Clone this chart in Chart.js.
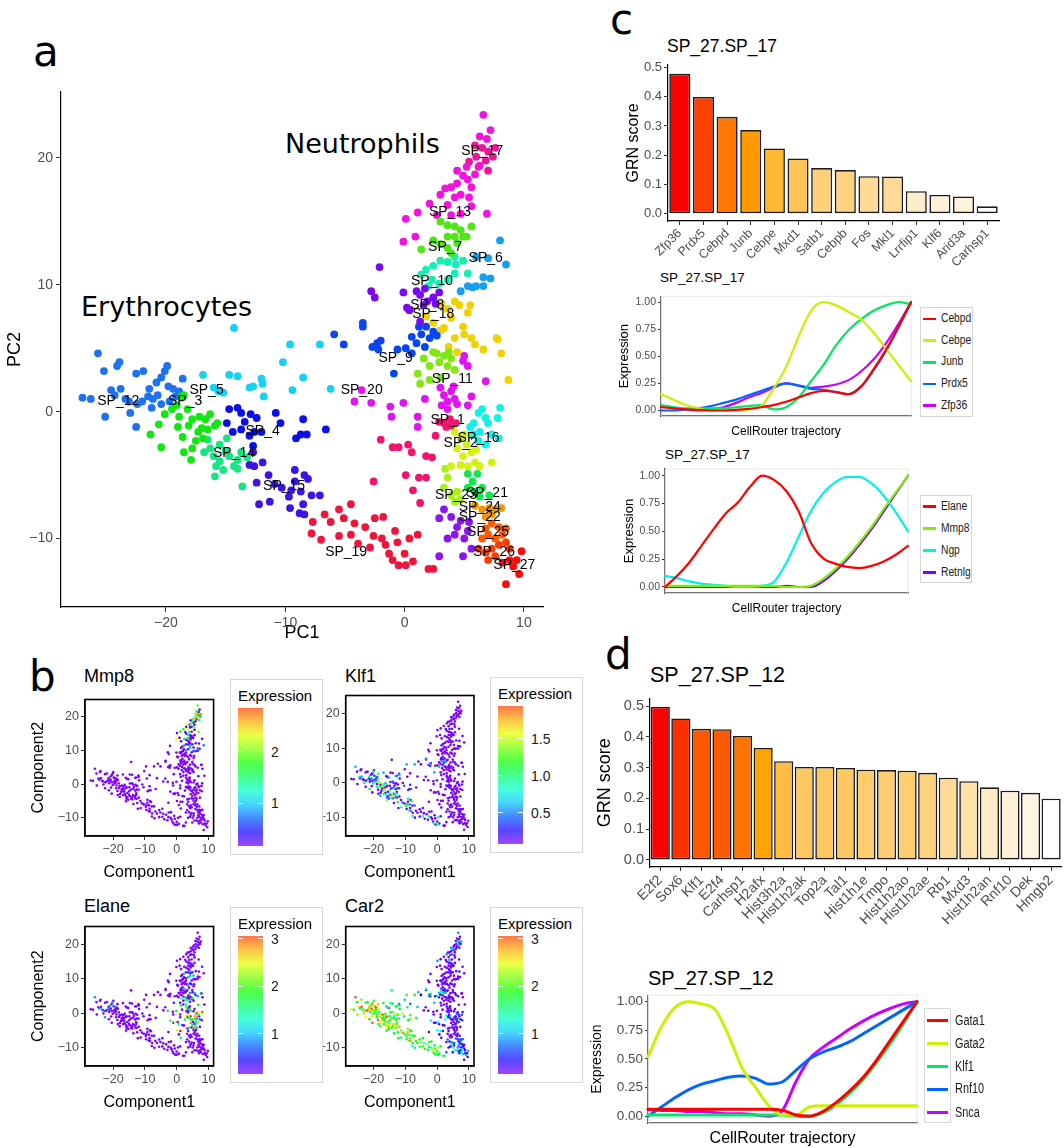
<!doctype html>
<html lang="en">
<head>
<meta charset="utf-8">
<title>CellRouter trajectories</title>
<style>
  * { margin: 0; padding: 0; box-sizing: border-box; }
  body { width: 1064px; height: 1148px; background: #fff; overflow: hidden; }
  #page { position: relative; width: 1064px; height: 1148px; font-family: "Liberation Sans", Arial, sans-serif; color: #000; }
  #page canvas { position: absolute; }
  .t { position: absolute; white-space: nowrap; line-height: 1; }
  .letter { font-family: "DejaVu Sans", sans-serif; font-size: 42px; }
  .big { font-family: "DejaVu Sans", sans-serif; font-size: 27px; }
  .lg { position: absolute; border: 1px solid #d6d6d6; background: #fff; }
  .lg div { position: absolute; white-space: nowrap; line-height: 1; }
</style>
</head>
<body>
<div id="page">
  <div class="t letter" style="left:33px;top:31px">a</div>
  <div class="t letter" style="left:29px;top:656px">b</div>
  <div class="t letter" style="left:610px;top:-1px">c</div>
  <div class="t letter" style="left:605px;top:634px">d</div>
  <div class="t big" style="left:285px;top:130px">Neutrophils</div>
  <div class="t big" style="left:81px;top:293px">Erythrocytes</div>

  <div class="t" style="left:84px;top:667px;font-size:18px">Mmp8</div>
  <div class="t" style="left:345px;top:667px;font-size:18px">Klf1</div>
  <div class="t" style="left:84px;top:897px;font-size:18px">Elane</div>
  <div class="t" style="left:345px;top:897px;font-size:18px">Car2</div>

  <div class="t" style="left:667px;top:38px;font-size:17.5px">SP_27.SP_17</div>
  <div class="t" style="left:660px;top:271px;font-size:13.5px">SP_27.SP_17</div>
  <div class="t" style="left:665px;top:448px;font-size:13.5px">SP_27.SP_17</div>
  <div class="t" style="left:650px;top:665px;font-size:21.5px">SP_27.SP_12</div>
  <div class="t" style="left:648px;top:968px;font-size:20px">SP_27.SP_12</div>
</div>

<script src="https://cdn.jsdelivr.net/npm/chart.js@4.4.1/dist/chart.umd.min.js"></script>
<script>
// ---------- panel a / b : PCA coordinates per cluster ----------
const pcTicksX = [-20, -10, 0, 10];
const pcTicksY = [-10, 0, 10, 20];

const sp1 = [[2.9,-0.8],[3.3,-0.9],[3.9,-1.1],[4.3,-0.9],[3.8,-0.6],[3.5,-1.2],[-2.0,-2.2],[-1.0,-2.8],[-0.5,-2.8],[0.3,-2.6],[0.6,-3.2],[-2.6,-5.5],[0.1,-5.0],[0.7,-6.2],[1.3,-7.2],[1.2,-5.2],[1.8,-5.2],[1.8,-3.5],[2.6,-1.9],[2.3,-3.6]];
const sp2 = [[4.2,-1.6],[4.7,-2.1],[4.4,-2.9],[5.2,-2.6],[5.6,-3.2],[4.9,-3.5],[5.9,-4.0],[6.3,-4.3],[5.3,-4.3],[4.7,-4.2],[7.3,-4.0],[3.9,-4.3],[5.0,-1.8],[6.0,-3.0]];
const sp3 = [[-20.1,-0.2],[-20.6,-1.0],[-21.3,-1.8],[-20.4,-2.8],[-19.1,0.5],[-18.9,-0.4],[-18.7,1.2],[-18.5,1.3],[-19.0,-1.2],[-18.6,-2.0],[-18.1,-1.1],[-18.5,-3.2],[-17.9,-3.8],[-17.8,-2.9],[-17.3,-1.6],[-17.2,-0.4],[-16.7,-0.6],[-16.5,-1.4],[-16.9,-2.1],[-17.5,-2.3],[-16.3,-0.2],[-15.9,-1.1],[-15.7,-0.9],[-18.2,0.2],[-19.5,0.2],[-17.8,-0.6],[-17.0,-1.3]];
const sp4 = [[-14.7,0.2],[-14.0,0.3],[-13.7,-0.1],[-14.9,-0.9],[-14.4,-1.6],[-13.7,-1.4],[-13.4,-0.8],[-12.9,-0.2],[-12.4,-0.5],[-12.6,-1.6],[-13.0,-1.9],[-12.0,-1.6],[-10.8,-0.1],[-10.4,-0.9],[-8.5,-0.6],[-9.1,-2.1],[-8.7,-1.8],[-8.2,-1.8],[-6.6,-1.4],[-12.7,-2.7]];
const sp5 = [[-14.3,6.6],[-16.9,2.9],[-16.0,1.9],[-15.6,1.6],[-15.2,1.5],[-14.7,2.9],[-14.0,2.8],[-13.0,1.9],[-12.7,2.0],[-12.0,2.6],[-11.9,2.2],[-11.8,1.2],[-10.2,3.9],[-9.6,5.3],[-8.5,2.7],[-9.4,1.7],[-7.1,5.3],[-6.2,1.8]];
const sp6 = [[8.0,13.5],[7.0,12.1],[8.5,11.6],[4.7,9.5],[5.3,9.9],[5.7,9.8],[6.0,9.9],[6.6,9.9],[6.6,10.6],[7.2,10.5],[6.0,12.2]];
const sp7 = [[1.4,12.8],[3.0,15.0],[3.6,14.7],[4.2,14.6],[4.7,14.3],[4.9,13.8],[4.2,13.8],[3.6,13.8],[3.0,13.2],[3.6,12.9],[4.4,13.3],[5.6,14.6],[2.4,13.5],[5.2,13.8],[3.9,12.5]];
const sp8 = [[-2.1,11.4],[-2.8,9.5],[-2.5,9.0],[-0.1,9.4],[0.2,8.2],[0.4,8.0],[1.3,7.1],[1.0,9.5],[1.3,9.2],[1.7,9.7],[1.9,8.7],[2.4,9.0],[2.6,8.5],[1.6,8.4],[2.9,9.4]];
const sp9 = [[-5.9,6.1],[-5.1,5.3],[-3.5,7.0],[-3.5,6.7],[-2.7,5.1],[-2.3,5.4],[-2.0,5.6],[-2.2,4.9],[-0.9,3.0],[-0.6,4.9],[0.1,5.0],[0.6,4.6],[0.6,5.9],[1.0,5.4],[1.4,6.1],[1.7,5.1],[2.1,5.8],[2.4,6.3],[1.2,6.7],[1.8,6.7],[2.7,6.0]];
const sp10 = [[1.8,11.2],[2.4,11.5],[3.0,11.9],[3.6,11.8],[4.2,12.2],[4.3,11.6],[4.9,11.9],[5.3,10.9],[2.3,10.4],[2.9,10.1],[3.6,10.4],[1.4,10.8],[2.0,9.9],[4.2,10.9]];
const sp11 = [[1.6,4.2],[2.1,3.6],[2.4,4.7],[2.9,3.9],[3.3,4.4],[3.6,3.6],[3.9,4.2],[1.1,3.0],[1.3,2.2],[2.1,2.5],[3.0,2.7],[4.2,3.3],[3.7,4.7],[2.7,4.6]];
const sp12 = [[-27.0,1.1],[-26.3,1.0],[-25.7,4.6],[-25.2,3.2],[-25.1,-0.4],[-24.6,1.7],[-24.3,1.3],[-24.1,3.6],[-23.9,3.9],[-23.8,1.8],[-23.4,1.0],[-23.1,0.8],[-23.0,-0.1],[-22.5,3.0],[-22.5,-1.2],[-22.4,0.6],[-22.0,0.8],[-21.9,3.2],[-21.5,1.2],[-21.4,1.8],[-21.2,0.3],[-21.1,1.0],[-20.8,2.3],[-20.7,1.3],[-20.4,2.7],[-20.4,0.6],[-20.1,3.2],[-19.9,3.6],[-19.8,2.0],[-19.7,0.8],[-19.4,1.8],[-19.2,1.2],[-18.9,1.6],[-18.6,2.6]];
const sp13 = [[2.1,16.4],[3.0,17.1],[3.4,17.6],[3.9,17.7],[4.4,18.0],[4.7,17.1],[5.3,18.3],[5.4,16.9],[5.6,17.7],[4.9,18.6],[4.2,16.9],[3.6,16.3],[2.7,15.5],[3.9,15.5],[4.7,15.6],[5.6,16.2],[6.9,15.6],[0.1,15.2],[1.1,15.7],[0.9,13.8],[-0.1,13.4],[4.4,19.0],[5.2,19.3],[5.9,18.7],[6.3,19.4],[6.6,23.4],[7.2,22.2],[6.3,21.7],[6.9,21.5]];
const sp14 = [[-16.8,-3.2],[-16.3,-2.9],[-16.0,-3.5],[-15.9,-5.1],[-15.5,-3.9],[-15.2,-4.6],[-15.0,-3.1],[-14.7,-3.5],[-14.3,-4.3],[-14.0,-3.8],[-13.6,-5.9],[-13.7,-3.2],[-13.2,-3.6],[-15.5,-2.6],[-14.9,-2.1],[-16.5,-2.2],[-14.0,-4.5],[-15.8,-4.3]];
const sp15 = [[-12.7,-3.2],[-13.0,-4.2],[-12.6,-4.3],[-11.9,-4.0],[-12.4,-5.6],[-12.2,-7.3],[-11.3,-7.1],[-11.4,-5.0],[-10.9,-5.7],[-10.3,-6.0],[-9.7,-6.7],[-9.6,-7.6],[-9.2,-4.6],[-9.2,-5.5],[-8.7,-6.3],[-8.4,-5.0],[-8.1,-5.3],[-8.5,-7.3],[-8.8,-8.0],[-7.8,-6.6],[-7.1,-6.6],[-8.4,-8.1],[-9.5,-6.2]];
const sp16 = [[6.2,-0.1],[6.5,0.2],[6.8,-0.5],[5.8,-0.9],[6.3,-1.6],[7.0,-0.9],[7.8,-0.5],[8.0,0.3],[6.8,-2.6],[6.2,-2.3],[5.8,-1.8],[7.3,-1.8],[7.9,-2.1],[5.5,-1.2]];
const sp17 = [[5.9,21.0],[6.5,20.8],[7.0,20.5],[6.0,20.1],[6.8,19.8],[7.4,20.1],[5.4,19.7],[7.6,20.8],[6.2,19.3],[7.0,19.0]];
const sp18 = [[1.8,7.5],[2.4,7.0],[3.1,8.5],[3.3,6.6],[3.9,7.4],[4.2,5.8],[4.6,8.4],[4.9,6.7],[5.3,7.8],[5.6,5.8],[5.9,5.3],[5.5,8.4],[4.2,8.7],[3.6,8.1],[3.7,5.1],[4.4,4.7],[5.0,6.1],[6.6,4.9],[7.8,5.7],[8.1,4.6],[8.7,2.5],[7.7,5.8],[3.0,6.4]];
const sp19 = [[-7.7,-8.7],[-7.0,-10.1],[-6.7,-8.1],[-7.8,-9.6],[-5.5,-7.7],[-5.1,-8.4],[-4.5,-7.3],[-5.5,-9.8],[-4.5,-9.7],[-4.2,-8.8],[-3.9,-10.4],[-3.3,-9.1],[-2.9,-10.7],[-2.6,-9.8],[-2.5,-8.4],[-1.9,-10.0],[-1.8,-8.3],[-1.6,-10.5],[-1.0,-11.7],[-0.8,-9.4],[-0.6,-10.3],[-0.5,-12.1],[0.0,-11.2],[0.4,-10.0],[0.7,-11.8],[1.1,-9.7],[2.0,-12.4],[2.4,-12.4],[0.1,-12.1],[-1.3,-11.2],[-6.2,-8.7]];
const sp20 = [[-3.6,1.7],[-4.2,0.8],[-2.8,0.7],[-1.2,0.4],[-1.1,-0.4],[-0.1,0.7],[1.1,-0.4],[1.1,-1.2],[3.3,1.3],[3.6,0.8],[3.9,1.6],[4.2,1.0],[3.1,0.5],[3.6,0.2],[4.4,0.6],[4.9,4.0],[5.3,3.6],[5.0,4.4],[5.6,1.2],[5.3,0.5],[6.8,2.4],[1.7,1.0],[4.1,2.0],[3.0,1.9]];
const sp21 = [[5.3,-4.9],[5.7,-5.5],[6.1,-4.9],[6.5,-6.0],[5.9,-6.3],[5.3,-6.0],[7.1,-6.6],[6.3,-6.7]];
const sp22 = [[3.3,-7.7],[3.9,-8.3],[4.4,-9.1],[4.2,-9.7],[4.7,-8.6],[5.3,-9.4],[5.0,-10.0],[4.9,-11.4],[2.9,-11.4],[3.6,-10.0],[5.6,-10.8],[2.9,-8.4],[5.4,-8.7]];
const sp23 = [[3.4,-4.5],[3.6,-5.2],[3.3,-6.0],[3.9,-6.6],[4.4,-6.3],[4.7,-6.9],[4.2,-7.1]];
const sp24 = [[5.9,-7.4],[6.5,-7.7],[7.1,-7.6],[7.6,-7.7],[8.1,-7.6],[6.8,-8.3],[7.3,-8.1]];
const sp25 = [[6.8,-9.2],[7.3,-8.8],[7.9,-9.1],[7.0,-9.7],[7.6,-10.0],[8.2,-9.7],[6.5,-10.0],[8.5,-9.2]];
const sp26 = [[6.2,-10.8],[6.8,-11.1],[7.3,-10.8],[7.9,-10.5],[8.5,-10.3],[7.0,-11.7],[7.6,-11.4],[8.8,-10.8]];
const sp27 = [[8.5,-13.6],[9.1,-12.2],[9.6,-12.8],[9.8,-11.0],[9.4,-11.7],[8.2,-11.9],[8.8,-11.7]];

const clusterPoints = {
  SP_1: sp1, SP_2: sp2, SP_3: sp3, SP_4: sp4, SP_5: sp5, SP_6: sp6, SP_7: sp7, SP_8: sp8, SP_9: sp9,
  SP_10: sp10, SP_11: sp11, SP_12: sp12, SP_13: sp13, SP_14: sp14, SP_15: sp15, SP_16: sp16, SP_17: sp17,
  SP_18: sp18, SP_19: sp19, SP_20: sp20, SP_21: sp21, SP_22: sp22, SP_23: sp23, SP_24: sp24, SP_25: sp25,
  SP_26: sp26, SP_27: sp27
};
const clusterColors = {
  SP_1: '#F0146E', SP_2: '#D7F014', SP_3: '#14E614', SP_4: '#0A10E6', SP_5: '#14D2F0', SP_6: '#14A0F0',
  SP_7: '#50E614', SP_8: '#780AF0', SP_9: '#0A46F0', SP_10: '#14F0B4', SP_11: '#82E614', SP_12: '#1E72F0',
  SP_13: '#F014DC', SP_14: '#14E682', SP_15: '#3C14E6', SP_16: '#14F0E6', SP_17: '#F0149B', SP_18: '#F0D200',
  SP_19: '#F0143C', SP_20: '#E014F0', SP_21: '#14E650', SP_22: '#8C14F0', SP_23: '#AAF014', SP_24: '#F09600',
  SP_25: '#FF5A00', SP_26: '#FF3C00', SP_27: '#FF0A0A'
};
// label anchor of each cluster name (data units)
const clusterLabelAt = {
  SP_17: [6.5, 20.5], SP_13: [3.8, 15.7], SP_7: [3.4, 13.0], SP_6: [6.8, 12.1], SP_10: [2.3, 10.3],
  SP_8: [1.9, 8.4], SP_18: [2.4, 7.7], SP_9: [-0.75, 4.2], SP_11: [4.0, 2.6], SP_20: [-3.6, 1.7],
  SP_5: [-16.6, 1.7], SP_3: [-18.4, 0.8], SP_12: [-24.0, 0.8], SP_4: [-11.9, -1.5], SP_14: [-14.3, -3.3],
  SP_15: [-10.1, -5.9], SP_19: [-4.9, -11.1], SP_1: [3.6, -0.65], SP_16: [6.2, -2.1], SP_2: [4.7, -2.5],
  SP_21: [6.9, -6.4], SP_23: [4.3, -6.6], SP_24: [6.3, -7.5], SP_22: [6.3, -8.3], SP_25: [7.0, -9.5],
  SP_26: [7.5, -11.1], SP_27: [9.2, -12.1]
};

// expression read per cluster (values cycle over that cluster's cells)
const mmp8Expr = { base: 0.15, SP_17: [2.5,1.8,2.8,1.2,2.2,0.9], SP_13: [1.8,0.3,2.4,0.2,1.2,0.2,0.3,2.0,0.2], SP_7: [0.2,0.2,1.6,0.2,0.2], SP_10: [0.2,0.9,0.2,0.2], SP_6: [0.2,0.2,0.8] };
const klf1Expr = { base: 0.08, SP_12: [0.1,0.1,0.6,0.1,0.1,0.9,0.1], SP_3: [0.8,0.1,1.2,0.1,0.6,0.1,0.1,1.4], SP_5: [0.1,0.6,0.1], SP_14: [1.0,0.1,0.7,1.5,0.1,0.5], SP_4: [0.1,0.5,0.1,0.1], SP_15: [0.8,0.1,0.5,0.1,1.2,0.1], SP_19: [0.1,0.1,0.1,0.9,0.1], SP_9: [0.1,0.1,0.6] };
const elaneExpr = { base: 0.15, SP_16: [3.0,2.2,1.4,2.8,0.8,0.2,2.5], SP_2: [2.0,1.0,2.9,0.3,0.2,1.6], SP_1: [2.5,0.2,1.5,0.2], SP_11: [1.2,0.2,0.2,1.8,0.2], SP_18: [0.2,0.9,0.2,0.2], SP_10: [0.2,1.0,0.2], SP_12: [0.15,0.15,0.9,0.15], SP_20: [0.15,0.15,1.9] };
const car2Expr = { base: 0.2, SP_12: [2.5,2.0,3.0,1.8,2.2,2.7,1.5], SP_3: [2.0,2.6,1.8,3.0,2.2,1.6], SP_5: [1.5,1.8,1.0,2.0,0.8], SP_14: [1.8,2.2,2.6,1.6,2.0], SP_4: [1.8,1.2,2.4,1.6,2.1], SP_15: [1.9,1.5,2.2,2.8,1.7], SP_19: [1.8,1.6,2.0,1.2,1.9,2.3], SP_9: [1.0,0.5,1.5,0.3], SP_22: [0.8,0.3,1.2,0.3], SP_25: [0.9,0.3,0.3], SP_26: [1.1,0.3,0.6], SP_24: [0.8,0.3], SP_27: [0.3,1.0], SP_13: [0.2,0.9,0.2,0.2], SP_17: [0.2,1.0,0.2], SP_16: [0.7,0.2], SP_1: [1.2,0.3,0.3] };
const legendTicksMmp8 = ['1', '2'];
const legendTicksKlf1 = ['0.5', '1.0', '1.5'];
const legendTicksElane = ['1', '2', '3'];
const legendTicksCar2 = ['1', '2', '3'];

// ---------- panel c / d : GRN scores ----------
const genesC = ['Zfp36','Prdx5','Cebpd','Junb','Cebpe','Mxd1','Satb1','Cebpb','Fos','Mkl1','Lrrfip1','Klf6','Arid3a','Carhsp1'];
const scoresC = [0.478,0.399,0.331,0.286,0.223,0.189,0.156,0.149,0.128,0.127,0.077,0.064,0.059,0.025];
const genesD = ['E2f2','Sox6','Klf1','E2f4','Carhsp1','H2afx','Hist3h2a','Hist1h2ak','Top2a','Tal1','Hist1h1e','Tmpo','Hist1h2ao','Hist1h2ae','Rb1','Mxd3','Hist1h2an','Rnf10','Dek','Hmgb2'];
const scoresD = [0.498,0.460,0.426,0.425,0.403,0.364,0.321,0.302,0.302,0.299,0.293,0.292,0.290,0.283,0.267,0.256,0.236,0.225,0.218,0.199];
const grnTicks = [0, 0.1, 0.2, 0.3, 0.4, 0.5];

// ---------- trajectories ----------
const trajT = [0,0.05,0.1,0.15,0.2,0.25,0.3,0.35,0.4,0.45,0.5,0.55,0.6,0.65,0.7,0.75,0.8,0.85,0.9,0.95,1];
const exprTicks = [0, 0.25, 0.5, 0.75, 1];

const namesC1 = ['Cebpd','Cebpe','Junb','Prdx5','Zfp36'];
const cebpdC1 = [0.03,0.02,0.01,0.005,0,0,0.005,0.015,0.03,0.05,0.08,0.12,0.16,0.18,0.17,0.15,0.22,0.38,0.56,0.77,1.0];
const cebpeC1 = [0.15,0.1,0.05,0.02,0,0,0,0.01,0.04,0.2,0.4,0.68,0.92,1.0,0.97,0.91,0.84,0.72,0.57,0.42,0.27];
const junbC1  = [0.05,0.03,0.02,0.02,0.02,0.02,0.03,0.04,0.05,0.01,0.03,0.12,0.27,0.42,0.6,0.74,0.84,0.92,0.97,1.0,0.98];
const prdx5C1 = [0,0,0.01,0.02,0.04,0.07,0.1,0.14,0.18,0.22,0.25,0.23,0.2,0.19,0.17,0.15,0.22,0.37,0.55,0.77,1.0];
const zfp36C1 = [0.04,0.03,0.01,0,0.01,0.03,0.07,0.12,0.16,0.21,0.25,0.23,0.21,0.22,0.24,0.28,0.36,0.47,0.62,0.8,1.0];

const namesC2 = ['Elane','Mmp8','Ngp','Retnlg'];
const elaneC2  = [0,0.1,0.22,0.37,0.52,0.66,0.76,0.9,1.0,0.96,0.86,0.68,0.4,0.26,0.21,0.18,0.17,0.19,0.23,0.29,0.37];
const mmp8C2   = [0.01,0.01,0.01,0.01,0.01,0.01,0.01,0.01,0.01,0.01,0,0,0.01,0.07,0.16,0.27,0.4,0.54,0.7,0.85,1.0];
const ngpC2    = [0.1,0.08,0.05,0.03,0.02,0.01,0,0,0.01,0.05,0.22,0.45,0.68,0.84,0.94,0.99,0.99,0.93,0.82,0.67,0.5];
const retnlgC2 = [0,0,0,0,0,0,0,0,0,0,0.01,0,0,0.05,0.14,0.25,0.38,0.52,0.68,0.84,1.0];

const namesD = ['Gata1','Gata2','Klf1','Rnf10','Snca'];
const gata1D = [0.06,0.06,0.06,0.06,0.06,0.06,0.06,0.06,0.06,0.06,0.05,0.01,0,0.04,0.12,0.22,0.34,0.49,0.66,0.83,1.0];
const gata2D = [0.52,0.78,0.95,1.0,0.98,0.93,0.7,0.42,0.25,0.09,0.01,0.01,0.08,0.09,0.09,0.09,0.09,0.09,0.09,0.09,0.09];
const klf1D  = [0.01,0.01,0.01,0.01,0.01,0.01,0.01,0.01,0.01,0.01,0.01,0,0,0.03,0.1,0.2,0.32,0.47,0.63,0.81,1.0];
const rnf10D = [0,0.08,0.16,0.23,0.28,0.31,0.34,0.35,0.33,0.28,0.3,0.4,0.5,0.56,0.6,0.65,0.72,0.79,0.86,0.93,1.0];
const sncaD  = [0.06,0.05,0.05,0.04,0.04,0.03,0.02,0.02,0.01,0,0.05,0.3,0.5,0.6,0.68,0.76,0.83,0.89,0.94,0.98,1.0];

const lineColors5 = ['#FF0000', '#CCF000', '#00E864', '#0066FF', '#CC00FF'];
const lineColors4 = ['#FF0000', '#80F000', '#00F0F0', '#8000FF'];

// ---------- helpers ----------
Chart.defaults.font.family = '"Liberation Sans", Arial, sans-serif';
Chart.defaults.color = '#4d4d4d';
Chart.defaults.animation = false;
Chart.defaults.plugins.legend.display = false;
Chart.defaults.plugins.tooltip.enabled = false;

const page = document.getElementById('page');

function makeCanvas(box) {
  const c = document.createElement('canvas');
  c.width = box.w; c.height = box.h;
  c.style.left = box.x + 'px'; c.style.top = box.y + 'px';
  page.appendChild(c);
  return c;
}

const minus = v => (v < 0 ? '\u2212' + Math.abs(v) : String(v));

function axis(o) {
  return {
    type: o.type || 'linear',
    min: o.min, max: o.max,
    offset: o.offset || false,
    afterBuildTicks: o.ticks ? (s => { s.ticks = o.ticks.map(v => ({ value: v })); }) : undefined,
    ticks: {
      display: o.showTicks !== false,
      callback: o.fmt || function (v) { return this.getLabelForValue(v); },
      font: { size: o.tickSize || 12 },
      color: '#4d4d4d',
      padding: o.pad != null ? o.pad : 2,
      autoSkip: false,
      maxRotation: o.rot || 0, minRotation: o.rot || 0
    },
    grid: {
      offset: false,
      drawOnChartArea: false,
      drawTicks: o.showTicks !== false,
      tickLength: o.tickLen || 4,
      color: '#333', tickColor: '#333', tickWidth: 1
    },
    border: { display: true, color: '#000', width: o.bw || 1.2 },
    title: {
      display: !!o.title, text: o.title, color: '#000',
      font: { size: o.titleSize || 14 },
      padding: { top: o.titlePad || 0, bottom: o.titlePad || 0 }
    },
    afterFit: s => {
      if (o.width != null) s.width = o.width;
      if (o.height != null) s.height = o.height;
    }
  };
}

// fits the plotting area exactly inside a canvas box (both in page pixels)
function fitArea(box, area) {
  return {
    padding: { top: area.t - box.y, right: box.x + box.w - area.r, left: 0, bottom: 0 },
    yWidth: area.l - box.x,
    xHeight: box.y + box.h - area.b
  };
}

const frameUnder = {
  id: 'frameUnder',
  beforeDatasetsDraw(chart, args, opts) {
    if (!opts.color) return;
    const { ctx, chartArea: a } = chart;
    ctx.save();
    ctx.strokeStyle = opts.color; ctx.lineWidth = opts.width || 1;
    ctx.strokeRect(a.left, a.top, a.right - a.left, a.bottom - a.top);
    ctx.restore();
  }
};
const frameOver = {
  id: 'frameOver',
  afterDatasetsDraw(chart, args, opts) {
    if (!opts.color) return;
    const { ctx, chartArea: a } = chart;
    ctx.save();
    ctx.strokeStyle = opts.color; ctx.lineWidth = opts.width || 1;
    ctx.strokeRect(a.left, a.top, a.right - a.left, a.bottom - a.top);
    ctx.restore();
  }
};

function rainbow(v, lo, hi, alpha) {
  let t = (v - lo) / (hi - lo);
  t = Math.max(0, Math.min(1, t));
  return `hsla(${270 - 255 * t},100%,50%,${alpha == null ? 1 : alpha})`;
}
function heat(v, lo, hi) {
  const t = (v - lo) / (hi - lo);
  let g, b;
  if (t < 0.55) { const f = t / 0.55; g = 255 - 90 * f; b = 255 - 255 * f; }
  else { const f = (t - 0.55) / 0.45; g = 165 - 165 * f; b = 0; }
  return `rgb(255,${Math.round(g)},${Math.round(b)})`;
}

// ---------- panel a ----------
(function () {
  const box = { x: 0, y: 80, w: 560, h: 568 };
  const f = fitArea(box, { l: 61, t: 92, r: 543, b: 607 });
  const names = Object.keys(clusterPoints);
  const datasets = names.map(n => ({
    label: n,
    data: clusterPoints[n].map(p => ({ x: p[0], y: p[1] })),
    backgroundColor: clusterColors[n],
    pointRadius: 3.9, pointBorderWidth: 0
  }));
  const labels = {
    id: 'clusterLabels',
    afterDatasetsDraw(chart) {
      const { ctx, scales: { x, y } } = chart;
      ctx.save();
      ctx.font = '14px "Liberation Sans", Arial, sans-serif';
      ctx.fillStyle = '#000'; ctx.textAlign = 'center'; ctx.textBaseline = 'middle';
      Object.entries(clusterLabelAt).forEach(([n, p]) => {
        ctx.fillText(n, x.getPixelForValue(p[0]), y.getPixelForValue(p[1]));
      });
      ctx.restore();
    }
  };
  new Chart(makeCanvas(box), {
    type: 'scatter',
    data: { datasets },
    options: {
      responsive: false,
      layout: { padding: f.padding },
      scales: {
        x: axis({ min: -28.8, max: 11.6, ticks: pcTicksX, fmt: minus, tickSize: 14, tickLen: 5, pad: 3, title: 'PC1', titleSize: 18, titlePad: 4, height: f.xHeight }),
        y: axis({ min: -15.4, max: 25.2, ticks: pcTicksY, fmt: minus, tickSize: 14, tickLen: 5, pad: 3, title: 'PC2', titleSize: 18, titlePad: 4, width: f.yWidth })
      }
    },
    plugins: [labels]
  });
})();

// ---------- panel b ----------
function exprPanel(box, area, gene, lo, hi) {
  const f = fitArea(box, area);
  const pts = [];
  Object.keys(clusterPoints).forEach(n => {
    const list = gene[n];
    clusterPoints[n].forEach((p, i) => {
      pts.push({ x: p[0], y: p[1], v: list ? list[i % list.length] : gene.base });
    });
  });
  pts.sort((a, b) => a.v - b.v);
  new Chart(makeCanvas(box), {
    type: 'scatter',
    data: { datasets: [{
      data: pts,
      pointBackgroundColor: pts.map(p => rainbow(p.v, lo, hi)),
      pointRadius: 1.3, pointBorderWidth: 0
    }] },
    options: {
      responsive: false,
      layout: { padding: f.padding },
      plugins: { frameOver: { color: '#000', width: 1.6 } },
      scales: {
        x: axis({ min: -28.8, max: 11.6, ticks: pcTicksX, fmt: minus, tickSize: 12.5, pad: 2, title: 'Component1', titleSize: 16, titlePad: 3, height: f.xHeight }),
        y: axis({ min: -15.4, max: 25.2, ticks: pcTicksY, fmt: minus, tickSize: 12.5, pad: 2, title: 'Component2', titleSize: 16, titlePad: 3, width: f.yWidth })
      }
    },
    plugins: [frameOver]
  });
}

function colorbarLegend(L, T, lo, hi, ticks) {
  const lg = document.createElement('div');
  lg.className = 'lg';
  lg.style.cssText = `left:${L}px;top:${T}px;width:93px;height:176px`;
  const title = document.createElement('div');
  title.textContent = 'Expression';
  title.style.cssText = 'left:7px;top:8px;font-size:15px;color:#000';
  lg.appendChild(title);
  const barH = 138, barTop = 28;
  const stops = [];
  for (let i = 0; i <= 10; i++) stops.push(`${rainbow(lo + (hi - lo) * i / 10, lo, hi, 0.72)} ${i * 10}%`);
  const bar = document.createElement('div');
  bar.style.cssText = `left:7px;top:${barTop}px;width:24.5px;height:${barH}px;background:linear-gradient(to top, ${stops.join(',')})`;
  lg.appendChild(bar);
  ticks.forEach(s => {
    const v = parseFloat(s);
    const y = barTop + barH * (1 - (v - lo) / (hi - lo));
    const lab = document.createElement('div');
    lab.textContent = s;
    lab.style.cssText = `left:40px;top:${y - 7}px;font-size:14px;color:#1a1a1a`;
    lg.appendChild(lab);
    [7, 26.5].forEach(x => {
      const tk = document.createElement('div');
      tk.style.cssText = `left:${x}px;top:${y - 0.5}px;width:5px;height:1px;background:rgba(255,255,255,0.9)`;
      lg.appendChild(tk);
    });
  });
  page.appendChild(lg);
}

exprPanel({ x: 26, y: 690, w: 195, h: 195 }, { l: 85, t: 698, r: 213.6, b: 836 }, mmp8Expr, 0.16, 2.86);
exprPanel({ x: 287, y: 686, w: 195, h: 199 }, { l: 345.7, t: 694, r: 474, b: 836 }, klf1Expr, 0.075, 1.94);
exprPanel({ x: 26, y: 917, w: 195, h: 198 }, { l: 85, t: 925, r: 213.6, b: 1066 }, elaneExpr, 0.15, 3.06);
exprPanel({ x: 287, y: 917, w: 195, h: 198 }, { l: 345.7, t: 925, r: 474, b: 1066 }, car2Expr, 0.15, 3.06);
colorbarLegend(230, 679, 0.16, 2.86, legendTicksMmp8);
colorbarLegend(490, 677, 0.075, 1.94, legendTicksKlf1);
colorbarLegend(230, 907, 0.15, 3.06, legendTicksElane);
colorbarLegend(490, 907, 0.15, 3.06, legendTicksCar2);

// ---------- bar charts (c top, d top) ----------
function grnBars(box, area, genes, scores, yMin, yMax, s) {
  const f = fitArea(box, area);
  const lo = Math.min(...scores), hi = Math.max(...scores);
  new Chart(makeCanvas(box), {
    type: 'bar',
    data: { labels: genes, datasets: [{
      data: scores,
      backgroundColor: scores.map(v => heat(v, lo, hi)),
      borderColor: '#1a1a1a', borderWidth: s.bw, borderSkipped: false,
      barPercentage: s.barPct, categoryPercentage: 1
    }] },
    options: {
      responsive: false,
      layout: { padding: f.padding },
      scales: {
        x: axis({ type: 'category', offset: true, showTicks: true, rot: 45, tickSize: s.xTick, pad: 1, tickLen: 4, height: f.xHeight }),
        y: axis({ min: yMin, max: yMax, ticks: grnTicks, fmt: v => v.toFixed(1), tickSize: s.yTick, pad: 2, tickLen: 4, title: 'GRN score', titleSize: s.title, titlePad: s.titlePad, width: f.yWidth })
      }
    }
  });
}
grnBars({ x: 600, y: 55, w: 410, h: 215 }, { l: 668, t: 63, r: 999, b: 221 }, genesC, scoresC, -0.025, 0.509,
  { bw: 1.6, barPct: 0.89, xTick: 12.5, yTick: 13, title: 16, titlePad: 24 });
grnBars({ x: 588, y: 688, w: 476, h: 262 }, { l: 650, t: 695, r: 1064, b: 867 }, genesD, scoresD, -0.023, 0.524,
  { bw: 1.6, barPct: 0.93, xTick: 14, yTick: 14.5, title: 18, titlePad: 6 });

// ---------- trajectory line charts ----------
function trajChart(box, area, names, series, colors, yMin, yMax, s) {
  const f = fitArea(box, area);
  const datasets = names.map((n, i) => ({
    label: n,
    data: trajT.map((t, k) => ({ x: t, y: series[i][k] })),
    borderColor: colors[i], borderWidth: s.lw,
    pointRadius: 0, cubicInterpolationMode: 'monotone', fill: false,
    borderCapStyle: 'round', clip: 4
  }));
  new Chart(makeCanvas(box), {
    type: 'line',
    data: { datasets },
    options: {
      responsive: false,
      layout: { padding: f.padding },
      plugins: { frameUnder: { color: '#e6e6e6', width: 1 } },
      scales: {
        x: axis({ min: 0, max: 1, showTicks: false, title: 'CellRouter trajectory', titleSize: s.xTitle, titlePad: s.xTitlePad, height: f.xHeight }),
        y: axis({ min: yMin, max: yMax, ticks: exprTicks, fmt: v => v.toFixed(2), tickSize: s.yTick, pad: 2, tickLen: 3, title: 'Expression', titleSize: s.yTitle, titlePad: s.yTitlePad, width: f.yWidth })
      }
    },
    plugins: [frameUnder]
  });
}

function lineLegend(box, names, colors, rows, s) {
  const lg = document.createElement('div');
  lg.className = 'lg';
  lg.style.cssText = `left:${box.x}px;top:${box.y}px;width:${box.w}px;height:${box.h}px`;
  page.appendChild(lg);
  names.forEach((n, i) => {
    const y = rows[i];
    const sw = document.createElement('div');
    sw.style.cssText = `position:absolute;left:${s.swX}px;top:${y - s.lw / 2}px;width:${s.swW}px;height:${s.lw}px;background:${colors[i]}`;
    page.appendChild(sw);
    const tx = document.createElement('div');
    tx.className = 't';
    tx.textContent = n;
    tx.style.cssText += `left:${s.txX}px;top:${y - s.font * 0.55}px;font-size:${s.font}px;color:#1a1a1a;transform:scaleX(${s.sx});transform-origin:0 0`;
    page.appendChild(tx);
  });
}

trajChart({ x: 600, y: 288, w: 322, h: 152 }, { l: 661, t: 293, r: 911, b: 416 }, namesC1,
  [cebpdC1, cebpeC1, junbC1, prdx5C1, zfp36C1], lineColors5, -0.051, 1.054,
  { lw: 2.2, xTitle: 12, xTitlePad: 1.5, yTick: 10.5, yTitle: 13, yTitlePad: 17 });
lineLegend({ x: 920, y: 307, w: 53, h: 110 }, namesC1, lineColors5, [319, 340.7, 362.3, 384, 405.7],
  { swX: 923, swW: 13, lw: 2.5, txX: 941, font: 12.5, sx: 0.82 });

trajChart({ x: 600, y: 460, w: 322, h: 160 }, { l: 665, t: 469, r: 908, b: 593 }, namesC2,
  [elaneC2, mmp8C2, ngpC2, retnlgC2], lineColors4, -0.054, 1.06,
  { lw: 2.2, xTitle: 12, xTitlePad: 4, yTick: 10.5, yTitle: 13, yTitlePad: 22 });
lineLegend({ x: 920, y: 495, w: 52, h: 88 }, namesC2, lineColors4, [506.7, 528.7, 550.7, 572.7],
  { swX: 923, swW: 13, lw: 2.5, txX: 941, font: 12.5, sx: 0.82 });

trajChart({ x: 585, y: 985, w: 345, h: 163 }, { l: 648, t: 993, r: 917, b: 1123 }, namesD,
  [gata1D, gata2D, klf1D, rnf10D, sncaD], lineColors5, -0.06, 1.057,
  { lw: 3, xTitle: 16, xTitlePad: 0, yTick: 13.5, yTitle: 14, yTitlePad: 4 });
lineLegend({ x: 924, y: 1008, w: 27, h: 115 }, namesD, lineColors5, [1020.7, 1043.3, 1066.7, 1089, 1112.3],
  { swX: 927, swW: 21, lw: 3, txX: 955, font: 14, sx: 0.78 });
</script>
</body>
</html>
